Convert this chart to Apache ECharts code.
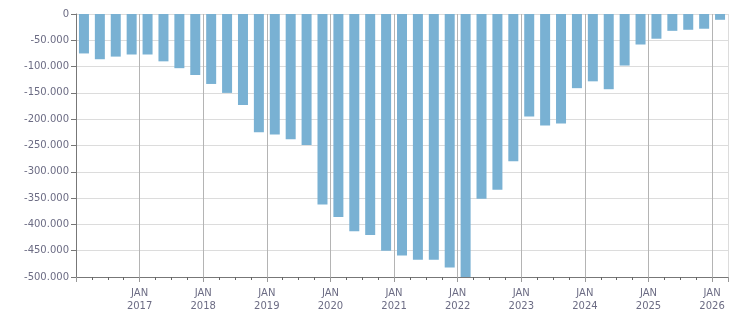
<!DOCTYPE html>
<html>
<head>
<meta charset="utf-8">
<script src="https://cdn.jsdelivr.net/npm/echarts@6/dist/echarts.min.js"></script>
<style>
  html, body { margin: 0; padding: 0; background: #fff; }
  #chart { width: 751px; height: 313px; }
</style>
</head>
<body>
<div id="chart"></div>
<script>
// quarters shown on the chart, Q1 2016 .. Q1 2026
var quarters = [
  '2016-Q1', '2016-Q2', '2016-Q3', '2016-Q4',
  '2017-Q1', '2017-Q2', '2017-Q3', '2017-Q4',
  '2018-Q1', '2018-Q2', '2018-Q3', '2018-Q4',
  '2019-Q1', '2019-Q2', '2019-Q3', '2019-Q4',
  '2020-Q1', '2020-Q2', '2020-Q3', '2020-Q4',
  '2021-Q1', '2021-Q2', '2021-Q3', '2021-Q4',
  '2022-Q1', '2022-Q2', '2022-Q3', '2022-Q4',
  '2023-Q1', '2023-Q2', '2023-Q3', '2023-Q4',
  '2024-Q1', '2024-Q2', '2024-Q3', '2024-Q4',
  '2025-Q1', '2025-Q2', '2025-Q3', '2025-Q4',
  '2026-Q1'
]
var values = [
  -75000, -86000, -81000, -77000,
  -77000, -90000, -103000, -116000,
  -133000, -150000, -173000, -225000,
  -229000, -238000, -249000, -362000,
  -386000, -413000, -420000, -450000,
  -459000, -467000, -467000, -482000,
  -500000, -351000, -334000, -280000,
  -195000, -212000, -208000, -141000,
  -128000, -143000, -98000, -58000,
  -47000, -32000, -30000, -28000,
  -11000
]
var yTicks = [0, -50000, -100000, -150000, -200000, -250000, -300000, -350000, -400000, -450000, -500000]

function fmtThousands(v) {
  var s = String(Math.abs(v)).replace(/\B(?=(\d{3})+(?!\d))/g, '.')
  return (v < 0 ? '-' : '') + s
}

// bar sits in the middle of its quarter on a year scale
var barData = quarters.map(function (q, i) {
  var year = parseInt(q.substring(0, 4))
  var qn = parseInt(q.substring(6))
  return [year + (qn - 0.5) / 4, values[i]]
})

var textColor = '#6c6c84'
var chart = echarts.init(document.getElementById('chart'))
chart.setOption({
  backgroundColor: '#fff',
  animation: false,
  grid: {
    left: 76,
    top: 14,
    right: 23,
    bottom: 32,
    containLabel: false
  },
  xAxis: {
    type: 'value',
    min: 2016,
    max: 2026.25,
    interval: 1,
    axisLine: {
      show: true,
      onZero: false,
      lineStyle: { color: '#777', width: 1 }
    },
    axisTick: {
      show: true,
      length: 5,
      lineStyle: { color: '#999' }
    },
    minorTick: {
      show: true,
      splitNumber: 4,
      length: 3,
      lineStyle: { color: '#666' }
    },
    axisLabel: {
      margin: 10,
      color: textColor,
      fontFamily: 'DejaVu Sans',
      fontSize: 10,
      lineHeight: 13,
      formatter: function (v) {
        if (Math.abs(v - Math.round(v)) > 1e-6 || v <= 2016) return ''
        return 'JAN\n' + Math.round(v)
      }
    },
    splitLine: {
      show: true,
      lineStyle: {
        color: ['#b4b4b4', '#b4b4b4', '#b4b4b4', '#b4b4b4', '#b4b4b4', '#b4b4b4',
                '#b4b4b4', '#b4b4b4', '#b4b4b4', '#b4b4b4', '#b4b4b4', '#dcdcdc'],
        width: 1
      }
    }
  },
  yAxis: {
    type: 'value',
    min: yTicks[yTicks.length - 1],
    max: yTicks[0],
    interval: 50000,
    axisLine: {
      show: true,
      lineStyle: { color: '#777', width: 1 }
    },
    axisTick: {
      show: true,
      length: 5,
      lineStyle: { color: '#777' }
    },
    axisLabel: {
      margin: 7,
      color: textColor,
      fontFamily: 'DejaVu Sans',
      fontSize: 10,
      formatter: function (v) { return fmtThousands(v) }
    },
    splitLine: {
      show: true,
      lineStyle: { color: '#dcdcdc', width: 1 }
    }
  },
  series: [{
    type: 'bar',
    barWidth: 10,
    itemStyle: { color: '#79b1d3' },
    data: barData
  }]
})
</script>
</body>
</html>
